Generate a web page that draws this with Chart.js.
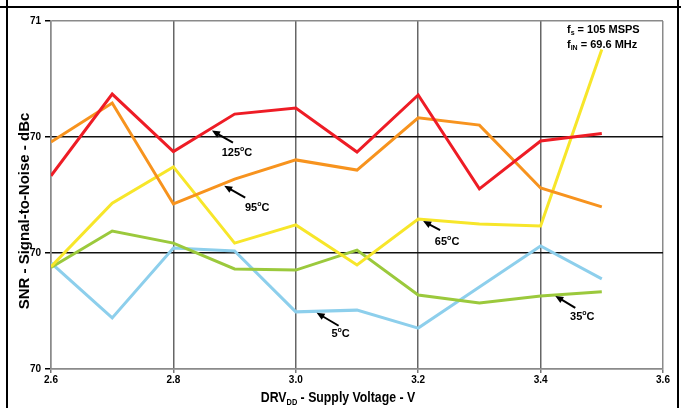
<!DOCTYPE html>
<html>
<head>
<meta charset="utf-8">
<script src="https://cdn.jsdelivr.net/npm/chart.js@4.4.1/dist/chart.umd.min.js"></script>
<style>
  html, body { margin: 0; padding: 0; background: #fff; }
  canvas { display: block; }
</style>
</head>
<body>
<canvas id="chart" width="681" height="408"></canvas>
<script>
// supply voltage (V)
const voltage = [2.6, 2.7, 2.8, 2.9, 3.0, 3.1, 3.2, 3.3, 3.4, 3.5]

// SNR (dBc) per temperature
const snr125 = [70.266, 70.548, 70.350, 70.479, 70.500, 70.348, 70.545, 70.221, 70.386, 70.412]
const snr95 = [70.383, 70.517, 70.169, 70.255, 70.321, 70.286, 70.466, 70.441, 70.224, 70.159]
const snr65 = [69.953, 70.172, 70.297, 70.034, 70.097, 69.959, 70.117, 70.100, 70.093, 70.702]
const snr35 = [69.950, 70.076, 70.034, 69.945, 69.941, 70.010, 69.855, 69.828, 69.852, 69.866]
const snr5 = [69.966, 69.776, 70.017, 70.007, 69.797, 69.803, 69.741, 69.883, 70.024, 69.911]

const seriesNames = ['125', '95', '65', '35', '5']
const seriesColors = ['#ee1c25', '#f7931e', '#f7e62a', '#9bc93c', '#8dcfec']

// tick settings
const xTicks = { min: 2.6, max: 3.6, step: 0.2 }
const yTicks = { min: 69.6, max: 70.8, step: 0.4 }

// callouts: arrow tip on the curve (data units)
const callouts = [
  { name: '125', x: 2.863, y: 70.422 },
  { name: '95', x: 2.883, y: 70.232 },
  { name: '65', x: 3.208, y: 70.110 },
  { name: '35', x: 3.424, y: 69.852 },
  { name: '5', x: 3.034, y: 69.794 }
]

const FONT = '"Liberation Sans", Arial, sans-serif'

const allSeries = [snr125, snr95, snr65, snr35, snr5]
const datasets = allSeries.map((values, i) => ({
  label: seriesNames[i] + '°C',
  data: voltage.map((v, j) => ({ x: v, y: values[j] })),
  borderColor: seriesColors[i],
  borderWidth: 3,
  pointRadius: 0,
  tension: 0,
  fill: false
}))

function drawTemp(ctx, text, cx, cy) {
  ctx.font = 'bold 11px ' + FONT
  const w1 = ctx.measureText(text).width
  ctx.font = 'bold 7px ' + FONT
  const wo = ctx.measureText('o').width
  ctx.font = 'bold 11px ' + FONT
  const wc = ctx.measureText('C').width
  let x = cx - (w1 + wo + wc) / 2
  ctx.textAlign = 'left'
  ctx.textBaseline = 'middle'
  ctx.fillText(text, x, cy)
  x += w1
  ctx.font = 'bold 7px ' + FONT
  ctx.fillText('o', x, cy - 4)
  x += wo
  ctx.font = 'bold 11px ' + FONT
  ctx.fillText('C', x, cy)
}

function drawArrow(ctx, x1, y1, x2, y2) {
  const ang = Math.atan2(y2 - y1, x2 - x1)
  const len = 8, half = 3.5
  ctx.beginPath()
  ctx.moveTo(x1, y1)
  ctx.lineTo(x2 - Math.cos(ang) * len * 0.8, y2 - Math.sin(ang) * len * 0.8)
  ctx.lineWidth = 2
  ctx.strokeStyle = '#000'
  ctx.stroke()
  ctx.beginPath()
  ctx.moveTo(x2, y2)
  ctx.lineTo(x2 - Math.cos(ang) * len + Math.sin(ang) * half, y2 - Math.sin(ang) * len - Math.cos(ang) * half)
  ctx.lineTo(x2 - Math.cos(ang) * len - Math.sin(ang) * half, y2 - Math.sin(ang) * len + Math.cos(ang) * half)
  ctx.closePath()
  ctx.fillStyle = '#000'
  ctx.fill()
}

// text with a subscript part: parts = [[text, isSub], ...]
function drawRich(ctx, parts, x, y, size, align) {
  const widths = parts.map(([t, sub]) => {
    ctx.font = 'bold ' + (sub ? Math.round(size * 0.6) : size) + 'px ' + FONT
    return ctx.measureText(t).width
  })
  const total = widths.reduce((a, b) => a + b, 0)
  let cx = align === 'center' ? x - total / 2 : x
  ctx.textAlign = 'left'
  ctx.textBaseline = 'middle'
  parts.forEach(([t, sub], i) => {
    ctx.font = 'bold ' + (sub ? Math.round(size * 0.6) : size) + 'px ' + FONT
    ctx.fillText(t, cx, sub ? y + size * 0.3 : y)
    cx += widths[i]
  })
}

const decorations = {
  id: 'decorations',
  beforeDraw(chart) {
    const ctx = chart.ctx
    ctx.save()
    ctx.fillStyle = '#fff'
    ctx.fillRect(0, 0, chart.width, chart.height)
    ctx.restore()
  },
  afterDraw(chart) {
    const ctx = chart.ctx
    const xs = chart.scales.x, ys = chart.scales.y
    ctx.save()

    // outer frame
    ctx.strokeStyle = '#000'
    ctx.lineWidth = 2
    ctx.beginPath()
    ctx.moveTo(0, 7); ctx.lineTo(chart.width, 7)
    ctx.moveTo(7, 0); ctx.lineTo(7, chart.height)
    ctx.moveTo(678, 0); ctx.lineTo(678, chart.height)
    ctx.stroke()

    ctx.fillStyle = '#000'

    // x title, condensed like the original
    ctx.save()
    ctx.translate(338, 398)
    ctx.scale(0.82, 1)
    drawRich(ctx, [['DRV', false], ['DD', true], [' - Supply Voltage - V', false]], 0, 0, 15, 'center')
    ctx.restore()

    // y title
    ctx.save()
    ctx.translate(25, 211)
    ctx.rotate(-Math.PI / 2)
    ctx.font = 'bold 15px ' + FONT
    ctx.textAlign = 'center'
    ctx.textBaseline = 'middle'
    ctx.fillText('SNR - Signal-to-Noise - dBc', 0, 0)
    ctx.restore()

    // conditions note
    drawRich(ctx, [['f', false], ['s', true], [' = 105 MSPS', false]], 567, 30, 11, 'left')
    drawRich(ctx, [['f', false], ['IN', true], [' = 69.6 MHz', false]], 567, 45, 11, 'left')

    // callouts
    const offsets = {
      '125': { tail: [21, 12], label: [25, 22] },
      '95': { tail: [21, 12], label: [33, 22] },
      '65': { tail: [17, 9], label: [24, 21] },
      '35': { tail: [20, 12], label: [27, 21] },
      '5': { tail: [22, 13], label: [24, 21] }
    }
    callouts.forEach(c => {
      const px = xs.getPixelForValue(c.x)
      const py = ys.getPixelForValue(c.y)
      const o = offsets[c.name]
      drawArrow(ctx, px + o.tail[0], py + o.tail[1], px, py)
      ctx.fillStyle = '#000'
      drawTemp(ctx, c.name, px + o.label[0], py + o.label[1])
    })

    ctx.restore()
  }
}

new Chart(document.getElementById('chart'), {
  type: 'line',
  data: { datasets },
  options: {
    responsive: false,
    animation: false,
    layout: { padding: { top: 21, right: 18, left: 0, bottom: 0 } },
    plugins: { legend: { display: false }, tooltip: { enabled: false } },
    scales: {
      x: {
        type: 'linear',
        min: xTicks.min,
        max: xTicks.max,
        ticks: {
          stepSize: xTicks.step,
          callback: v => v.toFixed(1),
          font: { family: FONT, size: 10, weight: 'bold' },
          color: '#000',
          padding: 1,
          maxRotation: 0
        },
        grid: {
          color: c => (c.index === 0 || c.index === 5) ? '#8a8a8a' : '#666',
          lineWidth: 1.5,
          tickLength: 4,
          tickColor: '#777'
        },
        border: { color: '#8a8a8a', width: 1.5 },
        afterFit: s => { s.height = 39 }
      },
      y: {
        min: yTicks.min,
        max: yTicks.max,
        ticks: {
          stepSize: yTicks.step,
          callback: v => Math.round(v).toString(),
          font: { family: FONT, size: 10, weight: 'bold' },
          color: '#000',
          padding: 4
        },
        grid: {
          color: c => (c.index === 0 || c.index === 3) ? '#8a8a8a' : '#111',
          lineWidth: 1.5,
          tickLength: 6,
          tickColor: '#000'
        },
        border: { color: '#8a8a8a', width: 1.5 },
        afterFit: s => { s.width = 51 }
      }
    }
  },
  plugins: [decorations]
})
</script>
</body>
</html>
